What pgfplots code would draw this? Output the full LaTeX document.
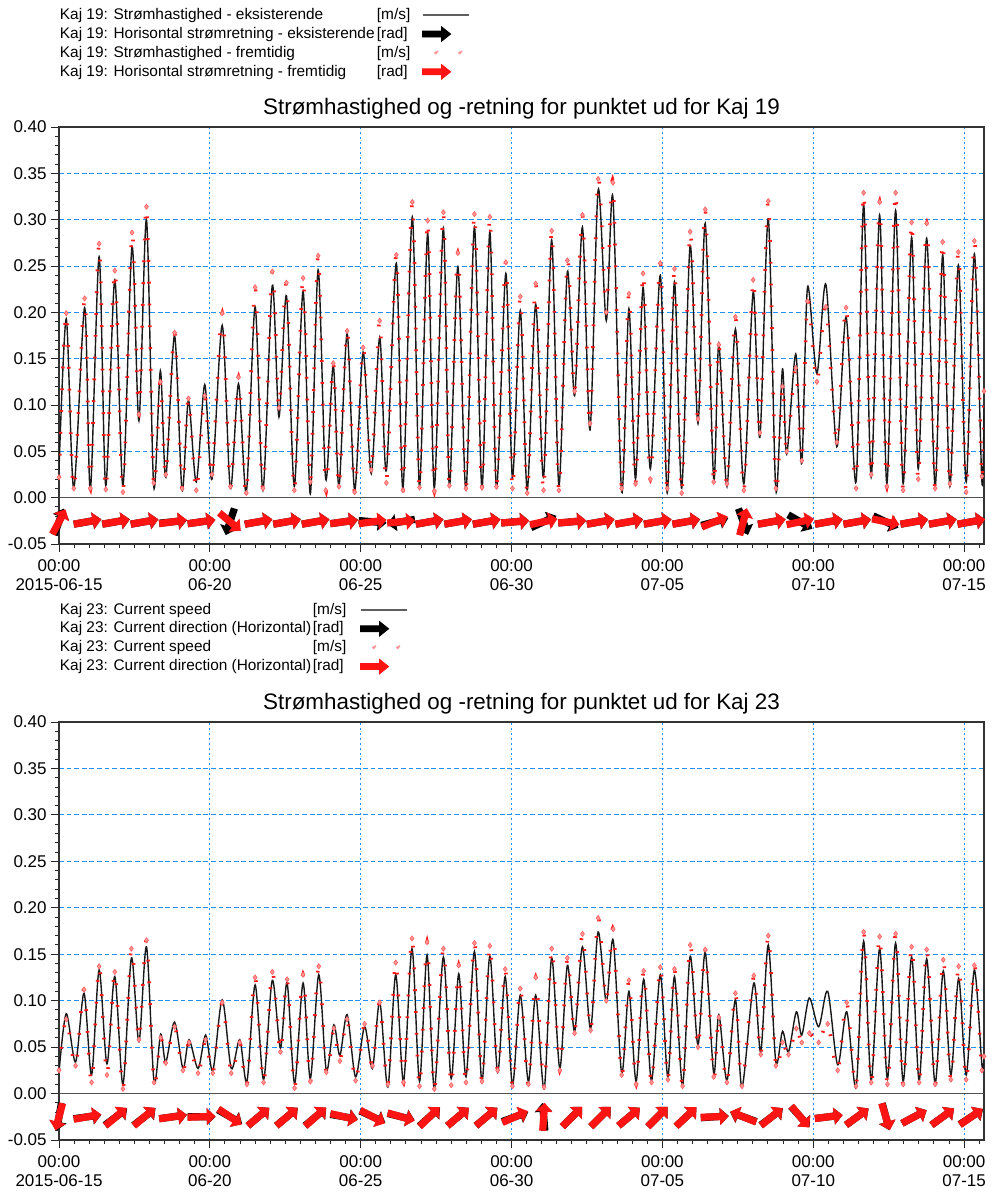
\documentclass[border=0pt]{standalone}
\usepackage{fontspec}
\setmainfont{Liberation Sans}
\usepackage{pgfplots}
\usepackage{pgfplotstable}
\pgfplotsset{compat=1.18}

\definecolor{gridblue}{RGB}{30,144,255}
\definecolor{futred}{RGB}{255,20,20}
\definecolor{dotred}{RGB}{255,25,25}
\definecolor{dotpink}{RGB}{255,150,150}
\definecolor{legline}{RGB}{95,95,95}
\definecolor{zerogray}{RGB}{80,80,80}

% arrow glyph for the direction series, centred on its data point
\pgfdeclareplotmark{flowarrow}{%
  \pgfpathmoveto{\pgfqpoint{-7pt}{-1.8pt}}%
  \pgfpathlineto{\pgfqpoint{2.6pt}{-1.8pt}}%
  \pgfpathlineto{\pgfqpoint{2.6pt}{-4.3pt}}%
  \pgfpathlineto{\pgfqpoint{7pt}{0pt}}%
  \pgfpathlineto{\pgfqpoint{2.6pt}{4.3pt}}%
  \pgfpathlineto{\pgfqpoint{2.6pt}{1.8pt}}%
  \pgfpathlineto{\pgfqpoint{-7pt}{1.8pt}}%
  \pgfpathclose
  \pgfusepathqfill
}

% speed at Kaj 19: t [days from 2015-06-15], b existing, r future
\pgfplotstableread{
t b r
0.00 0.030 0.022
0.24 0.193 0.199
0.49 0.010 0.010
0.85 0.205 0.215
1.04 0.008 0.010
1.33 0.260 0.274
1.55 0.013 0.009
1.85 0.235 0.245
2.12 0.013 0.006
2.42 0.271 0.286
2.65 0.083 0.090
2.90 0.300 0.314
3.14 0.012 0.016
3.36 0.137 0.125
3.54 0.022 0.025
3.83 0.175 0.178
4.08 0.008 0.010
4.29 0.105 0.107
4.55 0.017 0.008
4.83 0.122 0.110
5.07 0.020 0.025
5.41 0.186 0.199
5.68 0.010 0.012
5.95 0.123 0.130
6.21 0.006 0.005
6.50 0.206 0.227
6.76 0.008 0.010
7.07 0.229 0.244
7.29 0.087 0.097
7.54 0.218 0.232
7.80 0.012 0.008
8.09 0.223 0.237
8.33 0.004 0.017
8.59 0.246 0.261
8.84 0.020 0.008
9.09 0.143 0.145
9.28 0.012 0.012
9.55 0.177 0.180
9.80 0.008 0.006
10.08 0.157 0.162
10.35 0.026 0.030
10.63 0.173 0.191
10.85 0.029 0.016
11.18 0.253 0.262
11.40 0.010 0.008
11.71 0.303 0.319
11.95 0.012 0.011
12.22 0.285 0.299
12.44 0.010 0.007
12.74 0.291 0.308
12.94 0.012 0.013
13.22 0.249 0.264
13.49 0.008 0.010
13.77 0.292 0.306
14.02 0.010 0.011
14.28 0.287 0.303
14.50 0.010 0.012
14.81 0.242 0.254
15.03 0.022 0.010
15.29 0.202 0.217
15.52 0.008 0.005
15.80 0.209 0.231
16.06 0.022 0.008
16.33 0.278 0.288
16.57 0.013 0.008
16.85 0.244 0.256
17.09 0.110 0.115
17.35 0.292 0.305
17.60 0.073 0.080
17.87 0.332 0.344
18.14 0.191 0.200
18.36 0.324 0.340
18.65 0.006 0.010
18.89 0.204 0.220
19.11 0.020 0.015
19.36 0.227 0.242
19.60 0.031 0.020
19.93 0.240 0.253
20.16 0.005 0.010
20.40 0.233 0.247
20.64 0.010 0.005
20.92 0.272 0.287
21.18 0.080 0.085
21.42 0.296 0.311
21.70 0.020 0.017
21.87 0.166 0.165
22.14 0.012 0.015
22.42 0.182 0.195
22.70 0.015 0.008
23.01 0.222 0.235
23.23 0.065 0.070
23.51 0.301 0.320
23.76 0.008 0.010
23.98 0.139 0.120
24.12 0.047 0.050
24.42 0.155 0.140
24.62 0.037 0.040
24.81 0.227 0.212
25.12 0.134 0.125
25.42 0.230 0.206
25.78 0.055 0.060
26.09 0.195 0.205
26.42 0.017 0.010
26.67 0.316 0.329
26.92 0.022 0.025
27.20 0.305 0.319
27.44 0.015 0.012
27.73 0.310 0.329
27.98 0.015 0.008
28.26 0.281 0.297
28.48 0.031 0.020
28.76 0.280 0.296
29.04 0.012 0.010
29.29 0.262 0.276
29.53 0.012 0.015
29.81 0.251 0.265
30.07 0.017 0.006
30.34 0.263 0.277
30.59 0.017 0.023
30.66 0.096 0.115
}\kajA

% direction at Kaj 19: angle in degrees, b existing, r future
\pgfplotstableread{
t y b r
0.000 -0.026 70 62
0.945 -0.026 10 10
1.890 -0.026 10 10
2.835 -0.026 10 10
3.780 -0.026 6 8
4.725 -0.026 8 8
5.670 -0.026 -108 -40
6.615 -0.026 10 10
7.560 -0.026 10 10
8.505 -0.026 10 10
9.450 -0.026 8 8
10.395 -0.026 -5 8
11.340 -0.026 190 5
12.285 -0.026 10 10
13.230 -0.026 10 10
14.175 -0.026 10 10
15.120 -0.026 5 5
16.065 -0.026 25 12
17.010 -0.026 5 5
17.955 -0.026 10 10
18.900 -0.026 10 10
19.845 -0.026 10 10
20.790 -0.026 10 10
21.735 -0.026 15 22
22.680 -0.026 -70 75
23.625 -0.026 10 10
24.570 -0.026 -30 12
25.515 -0.026 10 10
26.460 -0.026 10 10
27.405 -0.026 -25 -12
28.350 -0.026 10 10
29.295 -0.026 10 10
30.240 -0.026 10 10
}\dirA

% speed at Kaj 23
\pgfplotstableread{
t b r
0.00 0.023 0.025
0.24 0.086 0.080
0.55 0.034 0.030
0.83 0.108 0.112
1.08 0.020 0.012
1.33 0.133 0.137
1.59 0.032 0.020
1.85 0.126 0.131
2.12 0.010 0.005
2.40 0.146 0.156
2.65 0.056 0.058
2.90 0.158 0.165
3.15 0.013 0.012
3.37 0.064 0.060
3.54 0.034 0.033
3.83 0.077 0.072
4.11 0.027 0.025
4.31 0.058 0.055
4.61 0.027 0.022
4.86 0.063 0.058
5.10 0.025 0.022
5.41 0.101 0.098
5.71 0.027 0.022
5.99 0.058 0.055
6.23 0.013 0.010
6.50 0.117 0.125
6.78 0.015 0.012
7.07 0.122 0.131
7.34 0.049 0.045
7.56 0.119 0.123
7.81 0.011 0.006
8.09 0.119 0.128
8.33 0.016 0.013
8.61 0.128 0.137
8.86 0.025 0.023
9.11 0.074 0.070
9.31 0.041 0.035
9.55 0.085 0.080
9.83 0.018 0.014
10.13 0.072 0.075
10.39 0.027 0.030
10.63 0.099 0.098
10.90 0.007 0.010
11.16 0.128 0.141
11.42 0.013 0.012
11.70 0.156 0.167
11.95 0.013 0.008
12.20 0.149 0.163
12.44 0.005 0.005
12.74 0.147 0.156
13.00 0.016 0.009
13.25 0.129 0.138
13.49 0.018 0.012
13.77 0.153 0.162
14.02 0.013 0.013
14.28 0.148 0.159
14.54 0.023 0.025
14.79 0.126 0.134
15.03 0.009 0.008
15.29 0.106 0.113
15.56 0.013 0.010
15.80 0.106 0.125
16.08 0.005 0.007
16.33 0.146 0.156
16.60 0.027 0.025
16.85 0.138 0.146
17.09 0.067 0.065
17.35 0.158 0.172
17.62 0.070 0.068
17.87 0.174 0.189
18.14 0.099 0.100
18.37 0.165 0.177
18.65 0.022 0.020
18.89 0.110 0.122
19.13 0.013 0.010
19.38 0.123 0.132
19.64 0.014 0.012
19.93 0.128 0.136
20.18 0.018 0.015
20.40 0.126 0.134
20.67 0.009 0.008
20.92 0.148 0.160
21.18 0.052 0.050
21.42 0.152 0.155
21.70 0.022 0.018
21.87 0.085 0.082
22.14 0.014 0.012
22.42 0.101 0.108
22.64 0.007 0.008
23.03 0.119 0.127
23.26 0.045 0.042
23.51 0.160 0.170
23.76 0.034 0.030
23.98 0.067 0.055
24.18 0.045 0.042
24.44 0.088 0.070
24.62 0.063 0.055
24.87 0.103 0.065
25.18 0.072 0.055
25.48 0.110 0.075
25.81 0.031 0.025
26.11 0.088 0.098
26.42 0.007 0.008
26.67 0.164 0.174
26.92 0.014 0.012
27.20 0.156 0.169
27.46 0.016 0.010
27.73 0.162 0.172
27.98 0.013 0.010
28.26 0.147 0.158
28.51 0.014 0.012
28.76 0.145 0.155
29.04 0.011 0.010
29.31 0.132 0.144
29.56 0.020 0.015
29.82 0.124 0.137
30.07 0.020 0.015
30.34 0.133 0.138
30.59 0.031 0.025
30.66 0.038 0.040
}\kajB

% direction at Kaj 23
\pgfplotstableread{
t y b r
0.000 -0.025 -100 -105
0.945 -0.025 8 10
1.890 -0.025 37 40
2.835 -0.025 38 40
3.780 -0.025 8 8
4.725 -0.025 0 2
5.670 -0.025 -30 -34
6.615 -0.025 40 40
7.560 -0.025 40 40
8.505 -0.025 40 42
9.450 -0.025 -10 -13
10.395 -0.025 -25 -28
11.340 -0.025 -14 -16
12.285 -0.025 42 44
13.230 -0.025 40 40
14.175 -0.025 40 40
15.120 -0.025 20 24
16.065 -0.025 95 86
17.010 -0.025 45 45
17.955 -0.025 45 45
18.900 -0.025 40 40
19.845 -0.025 45 45
20.790 -0.025 43 43
21.735 -0.025 4 2
22.680 -0.025 160 158
23.625 -0.025 37 39
24.570 -0.025 -48 -50
25.515 -0.025 7 7
26.460 -0.025 36 36
27.405 -0.025 -75 -73
28.350 -0.025 28 28
29.295 -0.025 36 36
30.240 -0.025 33 35
}\dirB

\pgfplotsset{
  kajaxis/.style={
    scale only axis, width=462.5pt,
    xmin=0, xmax=30.66, ymin=-0.05, ymax=0.40,
    xtick={0,5,10,15,20,25,30},
    xticklabels={{00:00\\2015-06-15},{00:00\\06-20},{00:00\\06-25},{00:00\\06-30},{00:00\\07-05},{00:00\\07-10},{00:00\\07-15}},
    minor xtick={0,0.5,...,30.5},
    ytick={-0.05,0,0.05,0.1,0.15,0.2,0.25,0.3,0.35,0.4},
    yticklabels={-0.05,0.00,0.05,0.10,0.15,0.20,0.25,0.30,0.35,0.40},
    minor ytick={-0.05,-0.04,...,0.401},
    tick align=outside, tick pos=left,
    major tick length=3.8pt, minor tick length=2pt,
    tick style={black!85, line width=0.5pt},
    axis line style={black!80, line width=0.6pt},
    xmajorgrids, ymajorgrids,
    major x grid style={gridblue, line width=0.6pt, dash pattern=on 1.2pt off 1.3pt},
    major y grid style={gridblue, line width=0.5pt, dash pattern=on 2.4pt off 1.4pt},
    tick label style={font=\fontsize{8.5}{9.5}\selectfont},
    xticklabel style={align=center, inner sep=0pt, yshift=-3.7pt},
    yticklabel style={inner sep=0pt, xshift=-2.2pt},
    every axis title/.style={at={(0.5,1)}, anchor=south, inner sep=0pt, yshift=3.6pt,
      font=\fontsize{11.2}{13}\selectfont},
    legend plot pos=right, legend cell align=left,
    legend style={at={(0.001,1.286)}, anchor=north west, draw=none, fill=none,
      inner sep=0pt, outer sep=0pt, row sep=1.95pt, column sep=0pt,
      font=\fontsize{7.7}{9.35}\selectfont,
      nodes={inner sep=0pt, text height=5.8pt, text depth=1.6pt}},
  },
}
\pgfplotsset{
  zerorule/.style={zerogray, line width=0.6pt, forget plot},
  speedline/.style={black!90, line width=0.7pt, smooth, tension=0.5,
    legend image code/.code={\draw[legline, line width=0.7pt] (0pt,0pt) -- (23pt,0pt);}},
  speeddots/.style={dotred, line width=1.8pt, line cap=butt, dash pattern=on 0.9pt off 10pt,
    smooth, tension=0.5, mark=diamond*, mark size=1.3pt,
    mark options={solid, fill=dotpink, draw=dotred!70!white, line width=0.3pt},
    legend image code/.code={\fill[dotpink] (6.5pt,0pt) circle (0.8pt) (18.5pt,0pt) circle (0.8pt);}},
  dirarrows/.style={color=#1, scatter, only marks, mark=flowarrow, point meta=explicit,
    scatter/use mapped color={draw=none, fill=#1},
    scatter/@pre marker code/.append style={/tikz/rotate=\ang},
    legend image code/.code={\fill[#1] (0pt,-1.5pt) -- (9.5pt,-1.5pt) -- (9.5pt,-3.6pt)
      -- (14pt,0pt) -- (9.5pt,3.6pt) -- (9.5pt,1.5pt) -- (0pt,1.5pt) -- cycle;}},
}

\begin{document}
\begin{tikzpicture}
\path[use as bounding box] (0,0) rectangle (496pt,-597pt);

\begin{axis}[kajaxis, at={(29.5pt,-272pt)}, anchor=south west, height=208.5pt,
  title={Strømhastighed og -retning for punktet ud for Kaj 19}]
\addplot[zerorule] coordinates {(0,0) (30.66,0)};
\addplot[speedline] table[x=t, y=b] \kajA;
\addlegendentry{\makebox[181pt][l]{\makebox[158.5pt][l]{Kaj 19: Strømhastighed - eksisterende}[m/s]}}
\addplot[dirarrows=black, visualization depends on={\thisrow{b} \as \ang}]
  table[x=t, y=y, meta=b] \dirA;
\addlegendentry{\makebox[181pt][l]{\makebox[158.5pt][l]{Kaj 19: Horisontal strømretning - eksisterende}[rad]}}
\addplot[speeddots] table[x=t, y=r] \kajA;
\addlegendentry{\makebox[181pt][l]{\makebox[158.5pt][l]{Kaj 19: Strømhastighed - fremtidig}[m/s]}}
\addplot[dirarrows=futred, visualization depends on={\thisrow{r} \as \ang}]
  table[x=t, y=y, meta=r] \dirA;
\addlegendentry{\makebox[181pt][l]{\makebox[158.5pt][l]{Kaj 19: Horisontal strømretning - fremtidig}[rad]}}
\end{axis}

\begin{axis}[kajaxis, at={(29.5pt,-570pt)}, anchor=south west, height=209pt,
  title={Strømhastighed og -retning for punktet ud for Kaj 23}]
\addplot[zerorule] coordinates {(0,0) (30.66,0)};
\addplot[speedline] table[x=t, y=b] \kajB;
\addlegendentry{\makebox[150pt][l]{\makebox[126.5pt][l]{Kaj 23: Current speed}[m/s]}}
\addplot[dirarrows=black, visualization depends on={\thisrow{b} \as \ang}]
  table[x=t, y=y, meta=b] \dirB;
\addlegendentry{\makebox[150pt][l]{\makebox[126.5pt][l]{Kaj 23: Current direction (Horizontal)}[rad]}}
\addplot[speeddots] table[x=t, y=r] \kajB;
\addlegendentry{\makebox[150pt][l]{\makebox[126.5pt][l]{Kaj 23: Current speed}[m/s]}}
\addplot[dirarrows=futred, visualization depends on={\thisrow{r} \as \ang}]
  table[x=t, y=y, meta=r] \dirB;
\addlegendentry{\makebox[150pt][l]{\makebox[126.5pt][l]{Kaj 23: Current direction (Horizontal)}[rad]}}
\end{axis}
\end{tikzpicture}
\end{document}
